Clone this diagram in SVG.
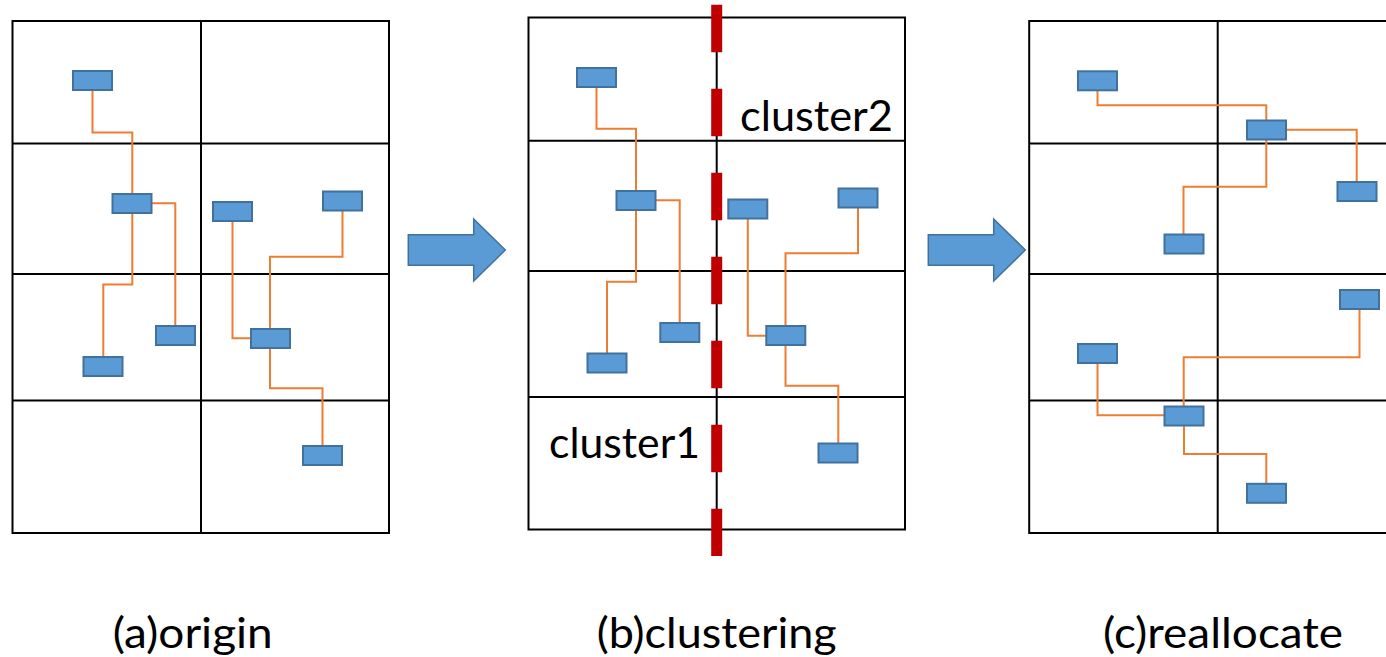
<svg xmlns="http://www.w3.org/2000/svg" width="1386" height="657" viewBox="0 0 1386 657">
  <style>
    .grid { fill: none; stroke: #000; stroke-width: 2; }
    .cell { fill: #5B9BD5; stroke: #41719C; stroke-width: 2; }
    .wire { fill: none; stroke: #ED7D31; stroke-width: 2; }
    .arrow { fill: #5B9BD5; stroke: #41719C; stroke-width: 1.5; }
    .cut { stroke: #C00000; stroke-width: 11; stroke-dasharray: 47.5 36.5; fill: none; }
    .label { font-family: Lato, "Liberation Sans", Arial, sans-serif; font-size: 43px; fill: #000; }
  </style>
  <rect width="1386" height="657" fill="#fff"/>

  <!-- (a) origin -->
  <g id="panel-a">
    <rect class="grid" x="12.5" y="21" width="376.5" height="512"/>
    <path class="grid" d="M201 21V533M12.5 143.5H389M12.5 274H389M12.5 400.5H389"/>
  </g>
  <g id="wires-a">
    <path class="wire" d="M92.5 90V132.5H132.3V194"/>
    <path class="wire" d="M132.3 213V284.5H103.3V357"/>
    <path class="wire" d="M152 203.3H175.3V326"/>
    <path class="wire" d="M232.5 221V338.3H251"/>
    <path class="wire" d="M342.5 210.5V256.7H270V329"/>
    <path class="wire" d="M270 348V388.3H322.5V446"/>
  </g>
  <g id="cells-a">
    <rect class="cell" x="73" y="71" width="39" height="19"/>
    <rect class="cell" x="112.5" y="194" width="39" height="19"/>
    <rect class="cell" x="213" y="202" width="39" height="19"/>
    <rect class="cell" x="323" y="191.5" width="39" height="19"/>
    <rect class="cell" x="83.5" y="357" width="39" height="19"/>
    <rect class="cell" x="156" y="326" width="39" height="19"/>
    <rect class="cell" x="251" y="329" width="39" height="19"/>
    <rect class="cell" x="303" y="446" width="39" height="19"/>
  </g>

  <!-- step arrows -->
  <g id="arrow-1">
    <path class="arrow" d="M408.3 234.7H473.7V219L505.3 250L473.7 281V265.3H408.3Z"/>
  </g>
  <g id="arrow-2">
    <path class="arrow" d="M928.3 234.7H993.7V219L1025.3 250L993.7 281V265.3H928.3Z"/>
  </g>

  <!-- (b) clustering -->
  <g id="panel-b">
    <rect class="grid" x="528.5" y="17.5" width="376.5" height="512"/>
    <path class="grid" d="M716.7 17.5V529.5M528.5 140.7H905M528.5 271H905M528.5 397H905"/>
  </g>
  <g id="cut-line">
    <line class="cut" x1="716.7" y1="4.7" x2="716.7" y2="556"/>
  </g>
  <g id="wires-b">
    <path class="wire" d="M596.5 87V128.7H636V191"/>
    <path class="wire" d="M636 210V281.7H607V353.5"/>
    <path class="wire" d="M656 200.3H679.7V323"/>
    <path class="wire" d="M747.8 218.5V335.7H766"/>
    <path class="wire" d="M858 208V253.3H785.5V326"/>
    <path class="wire" d="M785.5 345V385.7H838.3V443.5"/>
  </g>
  <g id="cells-b">
    <rect class="cell" x="577" y="68" width="39" height="19"/>
    <rect class="cell" x="616.5" y="191" width="39" height="19"/>
    <rect class="cell" x="728.3" y="199.5" width="39" height="19"/>
    <rect class="cell" x="838.5" y="188.5" width="39" height="19"/>
    <rect class="cell" x="587.5" y="353.5" width="39" height="19"/>
    <rect class="cell" x="660.3" y="323" width="39" height="19"/>
    <rect class="cell" x="766.3" y="326" width="39" height="19"/>
    <rect class="cell" x="818.5" y="443.5" width="39" height="19"/>
  </g>
  <g id="cluster-labels">
    <text class="label" x="740" y="130.5" textLength="153" lengthAdjust="spacingAndGlyphs">cluster2</text>
    <text class="label" x="549" y="458.3" textLength="151" lengthAdjust="spacingAndGlyphs">cluster1</text>
  </g>

  <!-- (c) reallocate -->
  <g id="panel-c">
    <rect class="grid" x="1029.2" y="21" width="376.5" height="512"/>
    <path class="grid" d="M1217.7 21V533M1029.2 143.5H1386M1029.2 274H1386M1029.2 400.5H1386"/>
  </g>
  <g id="wires-c">
    <path class="wire" d="M1097.5 90V105.3H1266.3V120.5"/>
    <path class="wire" d="M1286.3 129.7H1356.7V182"/>
    <path class="wire" d="M1266.3 139.3V186.7H1183.5V234"/>
    <path class="wire" d="M1359.5 309V357.3H1183.7V406.5"/>
    <path class="wire" d="M1097.5 363V415.3H1164.5"/>
    <path class="wire" d="M1184 425.5V454H1266.3V483.5"/>
  </g>
  <g id="cells-c">
    <rect class="cell" x="1078" y="71.3" width="39" height="19"/>
    <rect class="cell" x="1247" y="120.5" width="39" height="19"/>
    <rect class="cell" x="1337.5" y="182" width="39" height="19"/>
    <rect class="cell" x="1164.5" y="234.5" width="39" height="19"/>
    <rect class="cell" x="1340" y="290" width="39" height="19"/>
    <rect class="cell" x="1078" y="344" width="39" height="19"/>
    <rect class="cell" x="1164.5" y="406.5" width="39" height="19"/>
    <rect class="cell" x="1247" y="483.8" width="39" height="19"/>
  </g>

  <!-- captions -->
  <g id="captions">
    <text class="label" x="112.7" y="648" textLength="160" lengthAdjust="spacingAndGlyphs">(a)origin</text>
    <text class="label" x="596.7" y="648" textLength="240" lengthAdjust="spacingAndGlyphs">(b)clustering</text>
    <text class="label" x="1103" y="648" textLength="240" lengthAdjust="spacingAndGlyphs">(c)reallocate</text>
  </g>
</svg>
